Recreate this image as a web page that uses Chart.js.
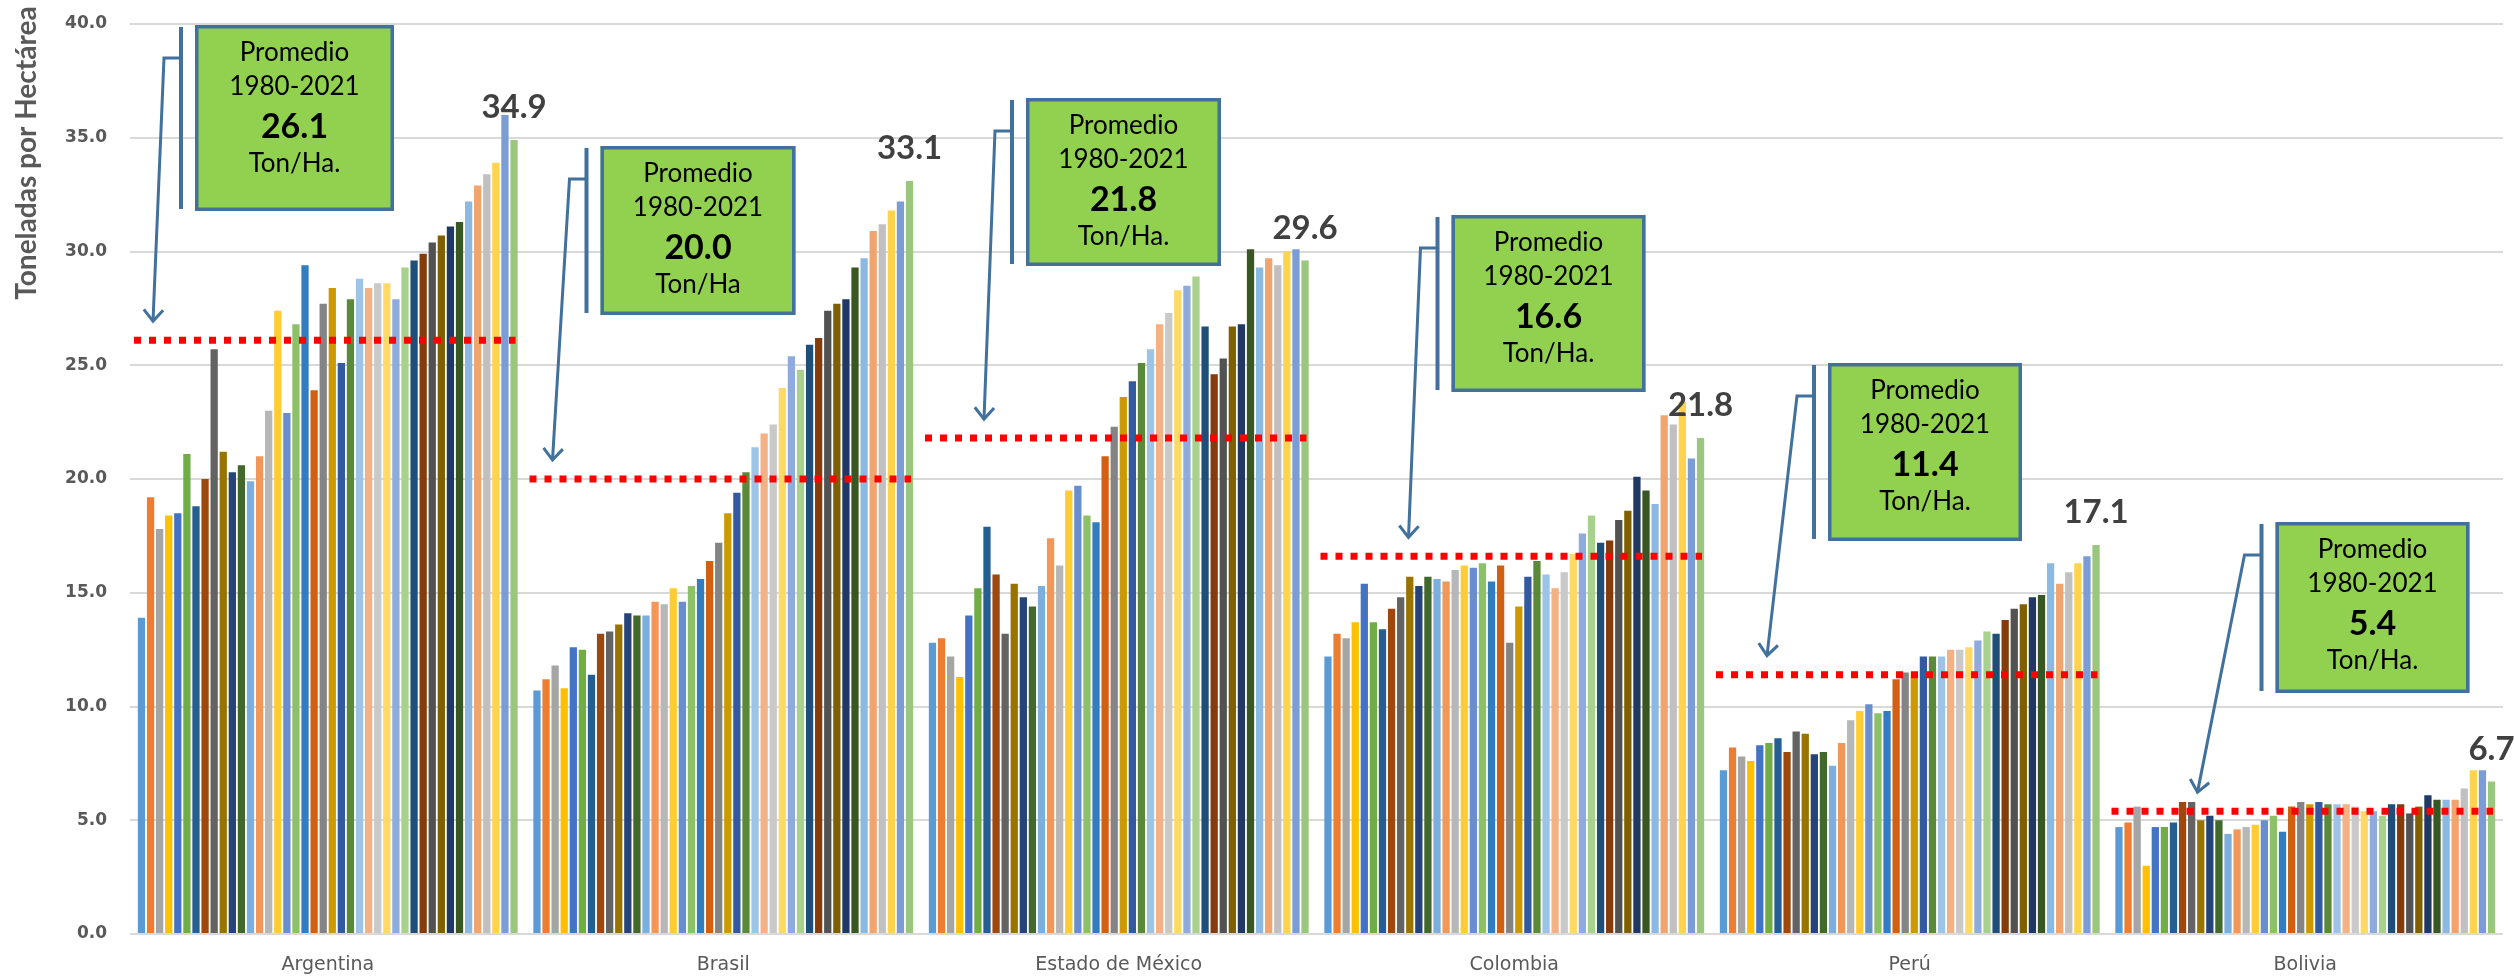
<!DOCTYPE html>
<html>
<head>
<meta charset="utf-8">
<script src="https://cdn.jsdelivr.net/npm/chart.js@4.4.1/dist/chart.umd.min.js"></script>
<style>
  html, body { margin: 0; padding: 0; background: #ffffff; }
  #wrap { width: 2514px; height: 977px; position: relative; }
</style>
</head>
<body>
<div id="wrap"><canvas id="c" width="2514" height="977"></canvas></div>
<script>
// Rendimiento por país, 1980-2021 (toneladas por hectárea)
const paises = ['Argentina', 'Brasil', 'Estado de México', 'Colombia', 'Perú', 'Bolivia'];
const anios = Array.from({ length: 42 }, (_, i) => String(1980 + i));

const argentina = [13.9, 19.2, 17.8, 18.4, 18.5, 21.1, 18.8, 20.0, 25.7, 21.2, 20.3, 20.6, 19.9, 21.0,
  23.0, 27.4, 22.9, 26.8, 29.4, 23.9, 27.7, 28.4, 25.1, 27.9, 28.8, 28.4, 28.6, 28.6, 27.9, 29.3,
  29.6, 29.9, 30.4, 30.7, 31.1, 31.3, 32.2, 32.9, 33.4, 33.9, 36.0, 34.9];
const brasil = [10.7, 11.2, 11.8, 10.8, 12.6, 12.5, 11.4, 13.2, 13.3, 13.6, 14.1, 14.0, 14.0, 14.6,
  14.5, 15.2, 14.6, 15.3, 15.6, 16.4, 17.2, 18.5, 19.4, 20.3, 21.4, 22.0, 22.4, 24.0, 25.4, 24.8,
  25.9, 26.2, 27.4, 27.7, 27.9, 29.3, 29.7, 30.9, 31.2, 31.8, 32.2, 33.1];
const mexico = [12.8, 13.0, 12.2, 11.3, 14.0, 15.2, 17.9, 15.8, 13.2, 15.4, 14.8, 14.4, 15.3, 17.4,
  16.2, 19.5, 19.7, 18.4, 18.1, 21.0, 22.3, 23.6, 24.3, 25.1, 25.7, 26.8, 27.3, 28.3, 28.5, 28.9,
  26.7, 24.6, 25.3, 26.7, 26.8, 30.1, 29.3, 29.7, 29.4, 30.0, 30.1, 29.6];
const colombia = [12.2, 13.2, 13.0, 13.7, 15.4, 13.7, 13.4, 14.3, 14.8, 15.7, 15.3, 15.7, 15.6, 15.5,
  16.0, 16.2, 16.1, 16.3, 15.5, 16.2, 12.8, 14.4, 15.7, 16.4, 15.8, 15.2, 15.9, 16.7, 17.6, 18.4,
  17.2, 17.3, 18.2, 18.6, 20.1, 19.5, 18.9, 22.8, 22.4, 23.4, 20.9, 21.8];
const peru = [7.2, 8.2, 7.8, 7.6, 8.3, 8.4, 8.6, 8.0, 8.9, 8.8, 7.9, 8.0, 7.4, 8.4,
  9.4, 9.8, 10.1, 9.7, 9.8, 11.2, 11.5, 11.5, 12.2, 12.2, 12.2, 12.5, 12.5, 12.6, 12.9, 13.3,
  13.2, 13.8, 14.3, 14.5, 14.8, 14.9, 16.3, 15.4, 15.9, 16.3, 16.6, 17.1];
const bolivia = [4.7, 4.9, 5.6, 3.0, 4.7, 4.7, 4.9, 5.8, 5.8, 5.0, 5.2, 5.0, 4.4, 4.6,
  4.7, 4.8, 5.0, 5.2, 4.5, 5.6, 5.8, 5.7, 5.8, 5.7, 5.7, 5.7, 5.6, 5.4, 5.4, 5.2,
  5.7, 5.7, 5.3, 5.6, 6.1, 5.9, 5.9, 5.9, 6.4, 7.2, 7.2, 6.7];

// Promedio 1980-2021 por país
const promedios = [26.1, 20.0, 21.8, 16.6, 11.4, 5.4];
const unidades = ['Ton/Ha.', 'Ton/Ha', 'Ton/Ha.', 'Ton/Ha.', 'Ton/Ha.', 'Ton/Ha.'];
const periodo = '1980-2021';
const tituloEjeY = 'Toneladas por Hectárea';
const yMin = 0, yMax = 40, yPaso = 5;

// Paleta de series (una por año)
const colores = [
  '#5B9BD5', '#ED7D31', '#A5A5A5', '#FFC000', '#4472C4', '#70AD47',
  '#255E91', '#9E480E', '#636363', '#997300', '#264478', '#43682B',
  '#7CAFDD', '#F1975A', '#B7B7B7', '#FFCD33', '#698ED0', '#8CC168',
  '#327DC2', '#D26012', '#848484', '#CC9A00', '#335AA1', '#5A8A39',
  '#9DC3E6', '#F4B183', '#C9C9C9', '#FFD966', '#8FAADC', '#A9D18E',
  '#1F4E79', '#843C0C', '#525252', '#7F6000', '#203864', '#385723',
  '#8CB9E2', '#F2A46F', '#C0C0C0', '#FFD34D', '#7C9CD6', '#9BC67E'
];

const porPais = [argentina, brasil, mexico, colombia, peru, bolivia];

const datasets = anios.map((anio, j) => ({
  label: anio,
  data: porPais.map(serie => serie[j]),
  backgroundColor: colores[j],
  borderWidth: 0,
  categoryPercentage: 0.965,
  barPercentage: 0.8
}));

// Ubicación de los recuadros de promedio (px, relativos al borde izquierdo de cada categoría y al tope del área)
const recuadros = [
  { dx: 65,  top: 1,   w: 199, h: 186, tipDx: 23 },
  { dx: 75,  top: 122, w: 195, h: 169, tipDx: 27 },
  { dx: 105, top: 74,  w: 195, h: 168, tipDx: 63 },
  { dx: 135, top: 191, w: 194, h: 177, tipDx: 92 },
  { dx: 116, top: 339, w: 194, h: 178, tipDx: 55 },
  { dx: 168, top: 498, w: 194, h: 171, tipDx: 90 }
];

const anotaciones = {
  id: 'anotaciones',
  afterDatasetsDraw(chart) {
    const { ctx, chartArea, scales } = chart;
    const y = scales.y;
    const anchoCat = (chartArea.right - chartArea.left) / paises.length;

    // Líneas punteadas del promedio
    ctx.save();
    ctx.strokeStyle = '#FF0000';
    ctx.lineWidth = 7;
    ctx.setLineDash([7, 8]);
    promedios.forEach((p, i) => {
      const izq = chartArea.left + i * anchoCat;
      const py = y.getPixelForValue(p);
      ctx.beginPath();
      ctx.moveTo(izq + 4, py);
      ctx.lineTo(izq + anchoCat - 10, py);
      ctx.stroke();
    });
    ctx.restore();

    // Etiqueta de valor sobre la última barra de cada país
    const idxUltimo = chart.data.datasets.length - 1;
    const ultimo = chart.getDatasetMeta(idxUltimo);
    ctx.save();
    ctx.fillStyle = '#404040';
    ctx.font = 'bold 33px Lato';
    ctx.textAlign = 'center';
    ctx.textBaseline = 'alphabetic';
    ultimo.data.forEach((barra, i) => {
      const v = chart.data.datasets[idxUltimo].data[i];
      ctx.fillText(v.toFixed(1), barra.x, barra.y - 22);
    });
    ctx.restore();

    // Recuadros con flecha
    recuadros.forEach((r, i) => {
      const izq = chartArea.left + i * anchoCat;
      const bx = izq + r.dx;
      const by = chartArea.top + r.top;
      const barraX = bx - 14;
      const codoY = by + 33;
      const codoX = barraX - 17;
      const tipX = izq + r.tipDx;
      const tipY = y.getPixelForValue(promedios[i]) - 19;

      ctx.save();
      ctx.strokeStyle = '#41719C';
      ctx.lineCap = 'butt';
      // barra de acento
      ctx.lineWidth = 4;
      ctx.beginPath();
      ctx.moveTo(barraX, by + 2);
      ctx.lineTo(barraX, by + r.h - 2);
      ctx.stroke();
      // conector
      ctx.lineWidth = 3;
      ctx.lineJoin = 'miter';
      ctx.beginPath();
      ctx.moveTo(barraX, codoY);
      ctx.lineTo(codoX, codoY);
      ctx.lineTo(tipX, tipY);
      ctx.stroke();
      // punta de flecha abierta
      const ang = Math.atan2(tipY - codoY, tipX - codoX);
      const largo = 15, abre = 0.7;
      ctx.beginPath();
      ctx.moveTo(tipX - largo * Math.cos(ang - abre), tipY - largo * Math.sin(ang - abre));
      ctx.lineTo(tipX, tipY);
      ctx.lineTo(tipX - largo * Math.cos(ang + abre), tipY - largo * Math.sin(ang + abre));
      ctx.stroke();
      // recuadro
      ctx.fillStyle = '#92D050';
      ctx.fillRect(bx, by, r.w, r.h);
      ctx.lineWidth = 3.5;
      ctx.strokeRect(bx + 1.75, by + 1.75, r.w - 3.5, r.h - 3.5);
      // texto
      const cx = bx + r.w / 2;
      ctx.fillStyle = '#000000';
      ctx.textAlign = 'center';
      ctx.textBaseline = 'middle';
      ctx.font = '26px Lato';
      ctx.fillText('Promedio', cx, by + 28);
      ctx.fillText(periodo, cx, by + 62);
      ctx.font = 'bold 34px Lato';
      ctx.fillText(promedios[i].toFixed(1), cx, by + 102);
      ctx.font = '26px Lato';
      ctx.fillText(unidades[i], cx, by + 139);
      ctx.restore();
    });

    // Título del eje Y
    ctx.save();
    ctx.translate(27, 153);
    ctx.rotate(-Math.PI / 2);
    ctx.fillStyle = '#595959';
    ctx.font = 'bold 28px Lato';
    ctx.textAlign = 'center';
    ctx.textBaseline = 'middle';
    ctx.fillText(tituloEjeY, 0, 0);
    ctx.restore();
  }
};

new Chart(document.getElementById('c'), {
  type: 'bar',
  data: { labels: paises, datasets },
  options: {
    responsive: false,
    animation: false,
    devicePixelRatio: 1,
    layout: { padding: { top: 24, right: 11, bottom: 0, left: 0 } },
    plugins: { legend: { display: false }, tooltip: { enabled: false } },
    scales: {
      x: {
        afterFit(scale) { scale.height = 43; },
        grid: { display: false, drawTicks: false },
        border: { display: false },
        ticks: {
          color: '#595959',
          font: { family: 'DejaVu Sans', size: 19 },
          padding: 20,
          maxRotation: 0
        }
      },
      y: {
        min: yMin,
        max: yMax,
        afterFit(scale) {
          scale.width = 130;
          scale.paddingTop = 0;
          scale.paddingBottom = 0;
        },
        grid: { color: '#D9D9D9', lineWidth: 2, drawTicks: false },
        border: { display: false },
        ticks: {
          stepSize: yPaso,
          padding: 23,
          color: '#595959',
          font: { family: 'DejaVu Sans', size: 17, weight: 'bold' },
          callback: v => Number(v).toFixed(1)
        }
      }
    }
  },
  plugins: [anotaciones]
});
</script>
</body>
</html>
